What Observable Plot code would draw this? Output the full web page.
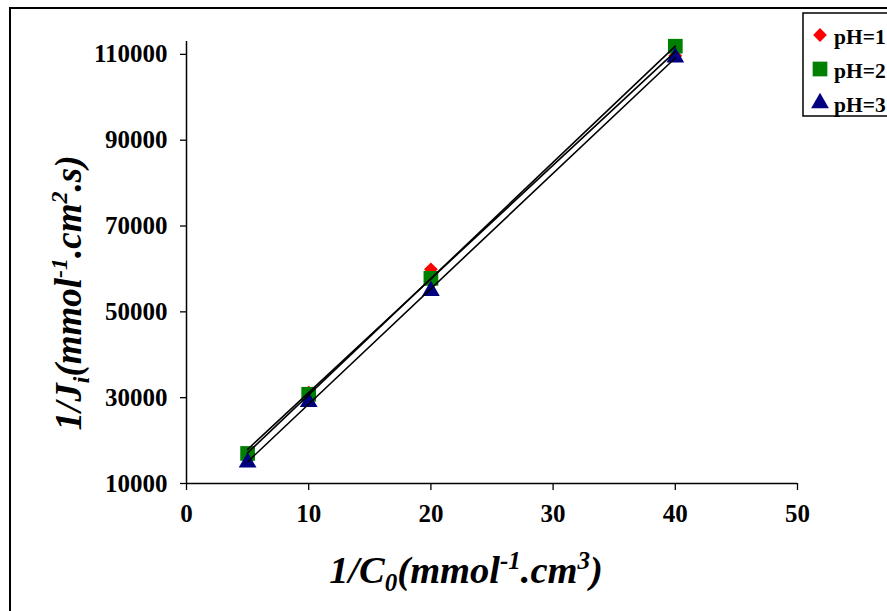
<!DOCTYPE html>
<html>
<head>
<meta charset="utf-8">
<script src="https://cdn.jsdelivr.net/npm/d3@7"></script>
<script src="https://cdn.jsdelivr.net/npm/@observablehq/plot@0.6"></script>
<style>
  html, body { margin: 0; padding: 0; background: #fff; }
  #chart svg { display: block; }
</style>
</head>
<body>
<div id="chart"></div>
<script>
// ---- data ----
const invC0 = [5, 10, 20, 40];               // 1/C0 (mmol^-1.cm^3)
const pH1 = [16700, 31200, 59900, 109700];   // 1/Ji for pH=1
const pH2 = [17000, 30800, 57800, 111900];   // 1/Ji for pH=2
const pH3 = [14900, 29000, 54900, 109300];   // 1/Ji for pH=3
const seriesNames = ["pH=1", "pH=2", "pH=3"];
const seriesColors = ["#ff0000", "#008000", "#000080"];
const seriesSymbols = ["diamond2", "square", "triangle"];
const seriesR = [6.2, 8.3, 6.6];
const xTicks = [0, 10, 20, 30, 40, 50];
const yTicks = [10000, 30000, 50000, 70000, 90000, 110000];

const seriesValues = [pH1, pH2, pH3];
const rows = seriesValues.flatMap((vals, s) =>
  vals.map((v, i) => ({x: invC0[i], y: v, s: seriesNames[s]})));

const font = "'Liberation Serif', 'Times New Roman', serif";

const marks = [];
seriesNames.forEach((name, s) => {
  marks.push(Plot.dot(rows.filter(d => d.s === name), {
    x: "x", y: "y", symbol: () => seriesSymbols[s], fill: seriesColors[s],
    r: seriesR[s], stroke: "none"
  }));
});
seriesNames.forEach((name) => {
  marks.push(Plot.linearRegressionY(rows.filter(d => d.s === name), {
    x: "x", y: "y", stroke: "#000", strokeWidth: 1.6, ci: 0
  }));
});

const chart = Plot.plot({
  width: 887,
  height: 611,
  marginLeft: 186,
  marginRight: 90,
  marginTop: 41,
  marginBottom: 128,
  style: {fontFamily: font, fontWeight: "bold", fontSize: "25px", color: "#000", background: "#fff"},
  x: {domain: [0, 50]},
  y: {domain: [10000, 113000]},
  symbol: {type: "identity"},
  marks: [
    Plot.ruleX([0], {stroke: "#000", strokeWidth: 1.5}),
    Plot.ruleY([10000], {stroke: "#000", strokeWidth: 1.5}),
    Plot.axisX({ticks: xTicks, tickSize: 7, tickPadding: 14, label: null, tickFormat: d3.format("d"), strokeWidth: 1.3}),
    Plot.axisY({ticks: yTicks, tickSize: 6, tickPadding: 13, label: null, tickFormat: d3.format("d"), strokeWidth: 1.3}),
    ...marks
  ]
});

document.getElementById("chart").appendChild(chart);
const svg = d3.select(chart);

// outer chart border
svg.append("rect")
  .attr("x", 10).attr("y", 8).attr("width", 900).attr("height", 620)
  .attr("fill", "none").attr("stroke", "#000").attr("stroke-width", 2);

// y-axis title
const yt = svg.append("text")
  .attr("transform", "translate(81,293) rotate(-90)")
  .attr("text-anchor", "middle")
  .style("font-family", font).style("font-weight", "bold").style("font-style", "italic")
  .style("font-size", "37px").attr("fill", "#000");
yt.append("tspan").text("1/J");
yt.append("tspan").attr("dy", 8).style("font-size", "24px").text("i");
yt.append("tspan").attr("dy", -8).text("(mmol");
yt.append("tspan").attr("dy", -14).style("font-size", "24px").text("-1");
yt.append("tspan").attr("dy", 14).text(".cm");
yt.append("tspan").attr("dy", -14).style("font-size", "24px").text("2");
yt.append("tspan").attr("dy", 14).text(".s)");

// x-axis title
const xt = svg.append("text")
  .attr("x", 466).attr("y", 583)
  .attr("text-anchor", "middle")
  .style("font-family", font).style("font-weight", "bold").style("font-style", "italic")
  .style("font-size", "38.5px").attr("fill", "#000");
xt.append("tspan").text("1/C");
xt.append("tspan").attr("dy", 8).style("font-size", "25px").text("0");
xt.append("tspan").attr("dy", -8).text("(mmol");
xt.append("tspan").attr("dy", -14).style("font-size", "25px").text("-1");
xt.append("tspan").attr("dy", 14).text(".cm");
xt.append("tspan").attr("dy", -14).style("font-size", "25px").text("3");
xt.append("tspan").attr("dy", 14).text(")");

// legend
const lg = svg.append("g");
lg.append("rect").attr("x", 803).attr("y", 13).attr("width", 120).attr("height", 103)
  .attr("fill", "#fff").attr("stroke", "#000").attr("stroke-width", 1.5);
const symMap = {diamond2: d3.symbolDiamond2, square: d3.symbolSquare, triangle: d3.symbolTriangle};
seriesNames.forEach((name, s) => {
  const cy = 35 + s * 34;
  lg.append("path")
    .attr("transform", `translate(820,${cy})`)
    .attr("d", d3.symbol(symMap[seriesSymbols[s]], Math.PI * seriesR[s] * seriesR[s])())
    .attr("fill", seriesColors[s]);
  lg.append("text").attr("x", 834).attr("y", cy + 8.5)
    .attr("text-anchor", "start")
    .style("font-family", font).style("font-weight", "bold").style("font-size", "21.5px")
    .attr("fill", "#000").text(name);
});
</script>
</body>
</html>
